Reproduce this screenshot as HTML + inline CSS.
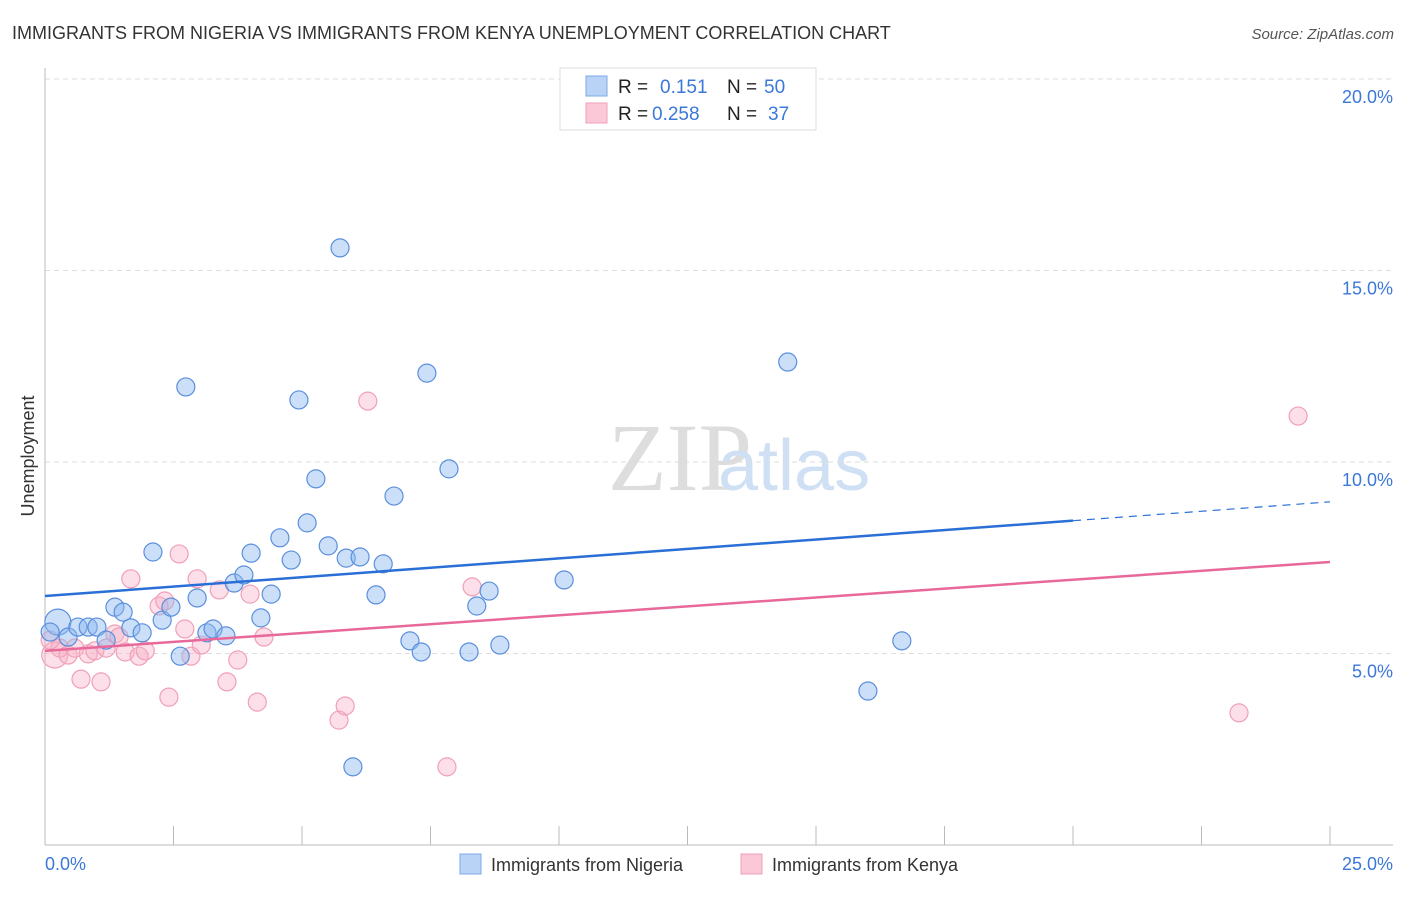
<!DOCTYPE html>
<html><head><meta charset="utf-8"><style>
body{margin:0;background:#fff;font-family:"Liberation Sans",sans-serif;}
</style></head><body>
<svg width="1406" height="892" xmlns="http://www.w3.org/2000/svg" font-family="Liberation Sans, sans-serif">
<text x="12" y="39" font-size="18" fill="#333">IMMIGRANTS FROM NIGERIA VS IMMIGRANTS FROM KENYA UNEMPLOYMENT CORRELATION CHART</text>
<text x="1394" y="39" font-size="15" fill="#555" font-style="italic" text-anchor="end">Source: ZipAtlas.com</text>
<text x="608" y="490" font-size="96" fill="#ddd" font-family="Liberation Serif, serif">ZIP</text>
<text x="718" y="490" font-size="72" fill="#cfe0f5">atlas</text>
<g id="grid"></g>
<g id="axes"></g>
<text transform="translate(34,456) rotate(-90)" font-size="18" fill="#333" text-anchor="middle">Unemployment</text>
<text x="45" y="870" font-size="18" fill="#3b78d8">0.0%</text>
<text x="1393" y="870" font-size="18" fill="#3b78d8" text-anchor="end">25.0%</text>
<g id="pts"></g>
<g id="trends"></g>
<g>
<rect x="560" y="68" width="256" height="62" fill="#fff" stroke="#ddd"/>
<rect x="586" y="76" width="21" height="20" fill="#b8d3f5" stroke="#7eaae8"/>
<rect x="586" y="103" width="21" height="20" fill="#fbc8d8" stroke="#f0a0b8"/>
<text x="618" y="93" font-size="19" fill="#222">R = </text><text x="660" y="93" font-size="19" fill="#3b78d8">0.151</text>
<text x="727" y="93" font-size="19" fill="#222">N = </text><text x="764" y="93" font-size="19" fill="#3b78d8">50</text>
<text x="618" y="120" font-size="19" fill="#222">R = </text><text x="652" y="120" font-size="19" fill="#3b78d8">0.258</text>
<text x="727" y="120" font-size="19" fill="#222">N = </text><text x="768" y="120" font-size="19" fill="#3b78d8">37</text>
</g>
<g>
<rect x="460" y="854" width="21" height="20" fill="#b8d3f5" stroke="#7eaae8"/>
<text x="491" y="871" font-size="18" fill="#333">Immigrants from Nigeria</text>
<rect x="741" y="854" width="21" height="20" fill="#fbc8d8" stroke="#f0a0b8"/>
<text x="772" y="871" font-size="18" fill="#333">Immigrants from Kenya</text>
</g>
</svg>
<script>
const yTicks=[5,10,15,20];
const yTickLabels=["5.0%","10.0%","15.0%","20.0%"];
const xTicks=[2.5,5,7.5,10,12.5,15,17.5,20,22.5,25];
const nigX=[0.25,0.45,0.64,0.84,1.01,1.19,1.36,1.52,1.67,1.89,2.10,2.28,2.45,2.63,2.74,2.96,3.15,3.27,3.52,3.68,3.87,4.01,4.20,4.40,4.57,4.79,5.10,5.27,5.51,5.74,5.86,5.99,6.13,6.44,6.58,6.79,7.10,7.32,7.43,7.86,8.25,8.40,8.64,8.85,10.10,14.45,16.01,16.67,4.94,0.10];
const nigY=[5.82,5.43,5.69,5.69,5.69,5.35,6.21,6.08,5.67,5.54,7.65,5.87,6.21,4.93,11.96,6.45,5.54,5.64,5.46,6.84,7.05,7.62,5.93,6.55,8.02,7.44,8.41,9.56,7.81,15.59,7.49,2.04,7.52,6.53,7.34,9.11,5.33,5.04,12.32,9.82,5.04,6.24,6.63,5.22,6.92,12.61,4.02,5.33,11.62,5.56];
const kenX=[0.19,0.29,0.45,0.58,0.70,0.84,0.97,1.09,1.19,1.36,1.44,1.56,1.67,1.83,1.95,2.22,2.33,2.41,2.61,2.72,2.84,2.96,3.04,3.39,3.54,3.75,3.99,4.13,4.26,5.72,5.84,6.28,7.82,8.31,23.23,24.38,0.10];
const kenY=[4.96,5.14,4.96,5.14,4.33,4.99,5.07,4.26,5.14,5.51,5.43,5.04,6.95,4.93,5.07,6.24,6.37,3.86,7.60,5.64,4.93,6.95,5.22,6.66,4.26,4.83,6.55,3.73,5.43,3.26,3.63,11.59,2.04,6.74,3.45,11.20,5.35];
const nigTrend=[6.50,8.96];
const kenTrend=[5.07,7.39];
const X=v=>45+v/25*1285, Y=v=>845-v*191.5/5;
const NS="http://www.w3.org/2000/svg";
function mk(tag,attrs,parent){const e=document.createElementNS(NS,tag);for(const k in attrs)e.setAttribute(k,attrs[k]);document.getElementById(parent).appendChild(e);return e;}
yTicks.forEach((t,i)=>{
 const l=mk('line',{x1:45,x2:1393,y1:Y(t),y2:Y(t),stroke:'#ddd','stroke-dasharray':'5,4'},'grid');
 
 
 const tx=mk('text',{x:1393,y:Y(t)+24,'font-size':18,fill:'#3b78d8','text-anchor':'end'},'grid');
 tx.textContent=yTickLabels[i];
 
 
});
let a=mk('line',{x1:45,x2:45,y1:68,y2:845,stroke:'#bbb'},'axes');


a=mk('line',{x1:45,x2:1393,y1:845,y2:845,stroke:'#bbb'},'axes');


xTicks.forEach(t=>{
 const l=mk('line',{x1:X(t),x2:X(t),y1:826,y2:845,stroke:'#bbb'},'axes');
 
 
});
function pts(xs,ys,fill,stroke,name){
 xs.forEach((x,i)=>{
  const big=(i===0&&name==='nigeria-point')||(i===0&&name==='kenya-point');
  const c=mk('circle',{cx:X(x),cy:Y(ys[i]),r:big?13:9,fill:fill,stroke:stroke,'stroke-width':1.2},'pts');
  
  
 });
}
pts(kenX,kenY,'rgba(248,175,198,0.4)','#f0a0b8','kenya-point');
pts(nigX,nigY,'rgba(140,185,240,0.45)','#5b8fdd','nigeria-point');
const xs=1073, v1=nigTrend[0]+(nigTrend[1]-nigTrend[0])*(xs-45)/1285;
let t=mk('line',{x1:X(0),y1:Y(nigTrend[0]),x2:xs,y2:Y(v1),stroke:'#2a6fd6','stroke-width':2.5},'trends');


t=mk('line',{x1:xs,y1:Y(v1),x2:X(25),y2:Y(nigTrend[1]),stroke:'#2a6fd6','stroke-width':1.2,'stroke-dasharray':'8,6'},'trends');


t=mk('line',{x1:X(0),y1:Y(kenTrend[0]),x2:X(25),y2:Y(kenTrend[1]),stroke:'#e8689a','stroke-width':2.5},'trends');


</script>
</body></html>
